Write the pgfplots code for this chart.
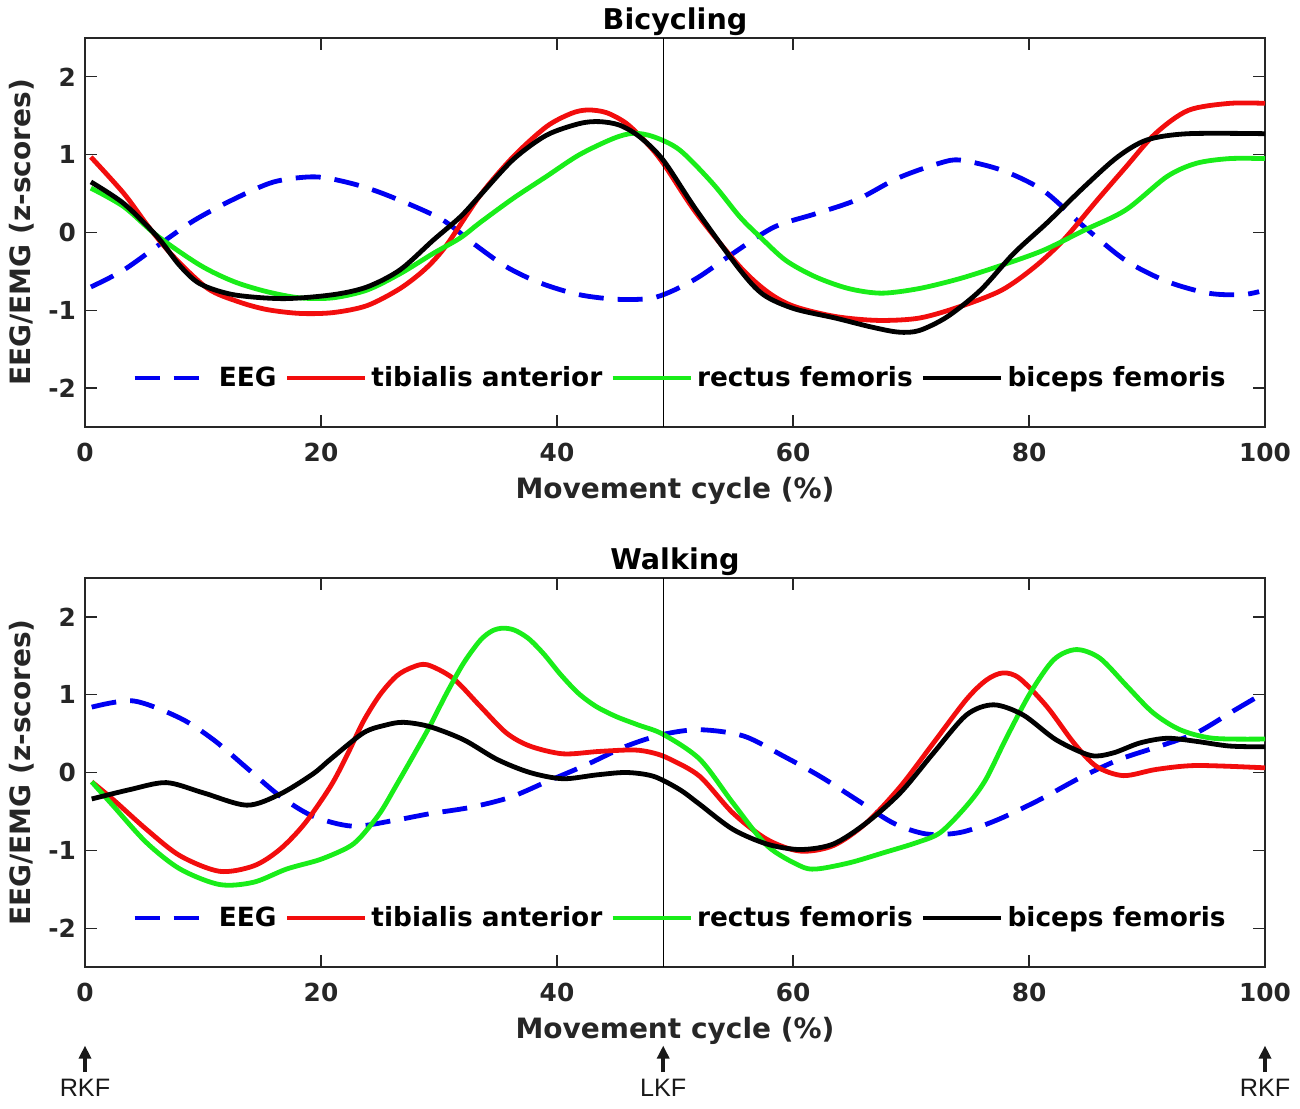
\documentclass[border=0pt]{standalone}
\usepackage{pgfplots}
\pgfplotsset{compat=1.18}
\usepackage{fontspec}
\setmainfont{DejaVu Sans}
\newfontfamily\arialfont{Liberation Sans}
\usetikzlibrary{arrows.meta}
\definecolor{cblue}{rgb}{0,0,0.95}
\definecolor{cred}{rgb}{0.95,0.05,0.05}
\definecolor{cgreen}{rgb}{0.1,0.93,0.1}
\definecolor{axgray}{rgb}{0.15,0.15,0.15}
\pgfplotsset{
  myaxis/.style={
    scale only axis, width=590pt, height=194.5pt,
    xmin=0, xmax=100, ymin=-2.5, ymax=2.5,
    xtick={0,20,40,60,80,100}, xticklabels={0,20,40,60,80,100},
    ytick={-2,-1,0,1,2}, yticklabels={-2,-1,0,1,2},
    tick align=inside, major tick length=6pt,
    axis line style={draw=axgray, line width=0.6pt},
    every tick/.style={draw=axgray, line width=0.6pt},
    tick label style={font=\fontsize{12.4}{14}\selectfont\bfseries, text=axgray},
    xticklabel style={yshift=-4.5pt},
    yticklabel style={xshift=-1pt},
    xlabel={Movement cycle (\%)}, ylabel={EEG/EMG (z-scores)},
    label style={font=\fontsize{14}{16}\selectfont\bfseries, text=axgray},
    xlabel style={at={(axis description cs:0.5,-0.165)}, anchor=center},
    ylabel style={at={(axis description cs:-0.0535,0.5)}, anchor=center},
    title style={font=\fontsize{14.3}{16}\selectfont\bfseries, at={(axis description cs:0.5,1.0424)}, anchor=center, yshift=-6pt},
    legend columns=4,
    legend style={draw=none, fill=none, at={(axis description cs:0.505,0.126)}, anchor=center,
      font=\fontsize{13.2}{15}\selectfont\bfseries,
      /tikz/every even column/.append style={column sep=2pt}},
    legend image code/.code={\draw[#1] (0pt,0pt) -- (39pt,0pt);},
    clip=false,
  },
  eeg/.style={color=cblue, line width=2.4pt, dash pattern=on 12.5pt off 7pt, smooth, no marks},
  ta/.style={color=cred, line width=2.4pt, smooth, no marks},
  rf/.style={color=cgreen, line width=2.4pt, smooth, no marks},
  bf/.style={color=black, line width=2.4pt, smooth, no marks},
}
\begin{document}
\begin{tikzpicture}
\useasboundingbox (0,0) rectangle (650pt,554pt);
% ---------------- Bicycling ----------------
\begin{axis}[myaxis, at={(42.5pt,340.5pt)}, anchor=south west, title={Bicycling}]
\addplot[eeg] coordinates {(0.5,-0.70) (3.3,-0.48) (6.8,-0.10) (9.3,0.16) (12.5,0.42) (16,0.65) (19.5,0.715) (22.6,0.63) (25.6,0.48) (30.1,0.18) (32.9,-0.14) (35.7,-0.44) (38.6,-0.65) (41.9,-0.80) (45.3,-0.86) (48.4,-0.83) (51.6,-0.61) (54.9,-0.27) (58.4,0.07) (61.9,0.24) (65.4,0.42) (68.9,0.70) (72.4,0.89) (74.2,0.93) (77.7,0.8) (81.2,0.54) (84.7,0.07) (88.2,-0.36) (91.7,-0.63) (95.2,-0.78) (98,-0.8) (99.5,-0.76)};
\addlegendentry{EEG}
\addplot[ta] coordinates {(0.5,0.97) (3.3,0.5) (5.4,0.07) (7.5,-0.31) (10.4,-0.72) (13.0,-0.89) (15.4,-0.99) (18.2,-1.04) (21.0,-1.03) (23.9,-0.94) (26.7,-0.72) (28.9,-0.46) (30.65,-0.16) (33.5,0.48) (36.3,0.975) (39.1,1.36) (41.2,1.53) (42.6,1.575) (44.2,1.54) (45.9,1.40) (47.6,1.15) (49.0,0.89) (51.8,0.25) (55.5,-0.44) (57.9,-0.77) (60.1,-0.95) (63.6,-1.08) (67.2,-1.13) (70.7,-1.1) (74.2,-0.95) (77.7,-0.74) (80.5,-0.44) (82.9,-0.1) (85.8,0.42) (88.2,0.84) (90.7,1.27) (93.5,1.57) (97,1.66) (100,1.66)};
\addlegendentry{tibialis anterior}
\addplot[rf] coordinates {(0.5,0.57) (3.3,0.33) (6.1,-0.04) (9.75,-0.42) (12.6,-0.63) (15.4,-0.76) (18.2,-0.84) (21.0,-0.84) (23.9,-0.74) (26.7,-0.53) (29.5,-0.27) (31.8,-0.07) (33.5,0.13) (36.3,0.44) (39.1,0.72) (41.9,1.0) (44.8,1.21) (46.5,1.275) (48.2,1.23) (50.4,1.06) (53.2,0.63) (55.5,0.20) (57.3,-0.07) (59.4,-0.36) (61.9,-0.57) (64.7,-0.72) (67.5,-0.78) (70.7,-0.72) (74.2,-0.59) (77.7,-0.42) (81.2,-0.23) (84.7,0.03) (88.2,0.29) (91.7,0.72) (94.2,0.89) (97,0.95) (100,0.95)};
\addlegendentry{rectus femoris}
\addplot[bf] coordinates {(0.5,0.65) (3.3,0.37) (6.1,-0.05) (8.0,-0.42) (9.75,-0.66) (12.6,-0.80) (16.8,-0.85) (21.0,-0.80) (23.9,-0.70) (26.7,-0.48) (29.5,-0.10) (31.8,0.20) (33.5,0.48) (36.3,0.94) (39.1,1.25) (41.9,1.40) (43.6,1.425) (45.3,1.38) (47.0,1.23) (49.0,0.93) (51.8,0.29) (55.5,-0.48) (57.5,-0.80) (60.1,-0.98) (63.6,-1.1) (66.5,-1.21) (68.9,-1.28) (70.7,-1.26) (73.1,-1.08) (75.9,-0.74) (78.7,-0.27) (81.5,0.12) (84.7,0.59) (87.5,0.97) (90,1.19) (93.5,1.27) (100,1.27)};
\addlegendentry{biceps femoris}
\addplot[black, line width=0.7pt, forget plot] coordinates {(49,-2.5) (49,2.5)};
\end{axis}
% ---------------- Walking ----------------
\begin{axis}[myaxis, at={(42.5pt,70.5pt)}, anchor=south west, title={Walking}]
\addplot[eeg] coordinates {(0.57,0.84) (4.1,0.92) (8.05,0.70) (10.9,0.42) (13.7,0.06) (16.5,-0.30) (19.3,-0.56) (22.7,-0.69) (26.4,-0.61) (29.2,-0.53) (32.6,-0.45) (36.0,-0.32) (39.1,-0.12) (42.5,0.10) (45.9,0.34) (49.0,0.49) (52.1,0.55) (55.8,0.47) (59.2,0.21) (62.3,-0.05) (65.4,-0.35) (68.5,-0.65) (71.3,-0.79) (74.2,-0.77) (77.3,-0.61) (80.9,-0.35) (84.3,-0.07) (87.7,0.17) (91.1,0.34) (94.2,0.51) (97.3,0.79) (100,1.03)};
\addlegendentry{EEG}
\addplot[ta] coordinates {(0.57,-0.12) (2.4,-0.35) (5.2,-0.73) (8.05,-1.07) (11.4,-1.27) (14.3,-1.2) (16.5,-0.99) (18.6,-0.66) (20.8,-0.18) (22.2,0.22) (23.6,0.66) (25.0,1.0) (26.4,1.24) (27.7,1.35) (29.0,1.385) (31.2,1.21) (33.5,0.85) (35.7,0.51) (37.7,0.34) (40.5,0.24) (43.5,0.27) (46.5,0.29) (48.2,0.25) (49.6,0.17) (52.1,-0.05) (54.9,-0.52) (57.8,-0.86) (60.6,-1.01) (63.4,-0.94) (66.2,-0.65) (69.1,-0.18) (71.9,0.38) (74.7,0.94) (76.4,1.19) (77.8,1.28) (79.2,1.21) (81.5,0.85) (83.8,0.38) (85.7,0.08) (88.0,-0.04) (90.8,0.04) (94.2,0.09) (100,0.06)};
\addlegendentry{tibialis anterior}
\addplot[rf] coordinates {(0.57,-0.12) (2.4,-0.43) (5.2,-0.90) (8.05,-1.24) (11.4,-1.44) (14.3,-1.41) (17.1,-1.24) (19.9,-1.12) (22.2,-0.97) (23.3,-0.84) (25.0,-0.52) (26.4,-0.16) (27.8,0.21) (29.2,0.59) (30.65,1.02) (32.1,1.41) (33.5,1.70) (34.5,1.82) (35.4,1.855) (36.4,1.83) (37.6,1.72) (38.9,1.52) (40.3,1.26) (41.8,1.02) (43.3,0.85) (45.0,0.72) (46.9,0.61) (49.0,0.49) (52.1,0.17) (54.9,-0.39) (57.8,-0.94) (60.6,-1.20) (62.0,-1.24) (64.8,-1.16) (67.7,-1.03) (70.5,-0.90) (72.5,-0.77) (74.7,-0.43) (76.3,-0.1) (78.1,0.45) (80.1,1.02) (82.1,1.45) (84.0,1.58) (86.0,1.47) (88.3,1.11) (90.5,0.77) (92.8,0.55) (95.6,0.44) (100,0.43)};
\addlegendentry{rectus femoris}
\addplot[bf] coordinates {(0.57,-0.34) (3.8,-0.22) (6.9,-0.13) (10.0,-0.26) (13.7,-0.42) (16.5,-0.28) (19.3,-0.02) (20.8,0.17) (23.6,0.51) (25.5,0.61) (27.0,0.645) (29.2,0.59) (32.1,0.42) (34.9,0.17) (37.7,0.0) (40.5,-0.08) (43.4,-0.03) (45.9,0.0) (48.2,-0.05) (50.4,-0.22) (52.1,-0.41) (54.9,-0.73) (57.8,-0.92) (60.6,-0.99) (63.4,-0.92) (66.2,-0.65) (69.1,-0.26) (71.9,0.25) (74.7,0.74) (77.0,0.87) (79.5,0.74) (82.3,0.42) (85.2,0.22) (87.1,0.25) (89.4,0.38) (91.7,0.44) (94.2,0.40) (97.0,0.34) (100,0.33)};
\addlegendentry{biceps femoris}
\addplot[black, line width=0.7pt, forget plot] coordinates {(49,-2.5) (49,2.5)};
\foreach \xx/\lab in {0/RKF, 49/LKF, 100/RKF}{
  \edef\tmp{\noexpand\draw[line width=2pt, color=black!90, -{Triangle[width=6pt,length=6.5pt]}] (axis cs:\xx,-3.85) -- (axis cs:\xx,-3.51);
  \noexpand\node[font=\noexpand\arialfont\noexpand\fontsize{12.6}{15}\noexpand\selectfont, text=black!90] at (axis cs:\xx,-4.05) {\lab};}
  \tmp
}
\end{axis}
\end{tikzpicture}
\end{document}
